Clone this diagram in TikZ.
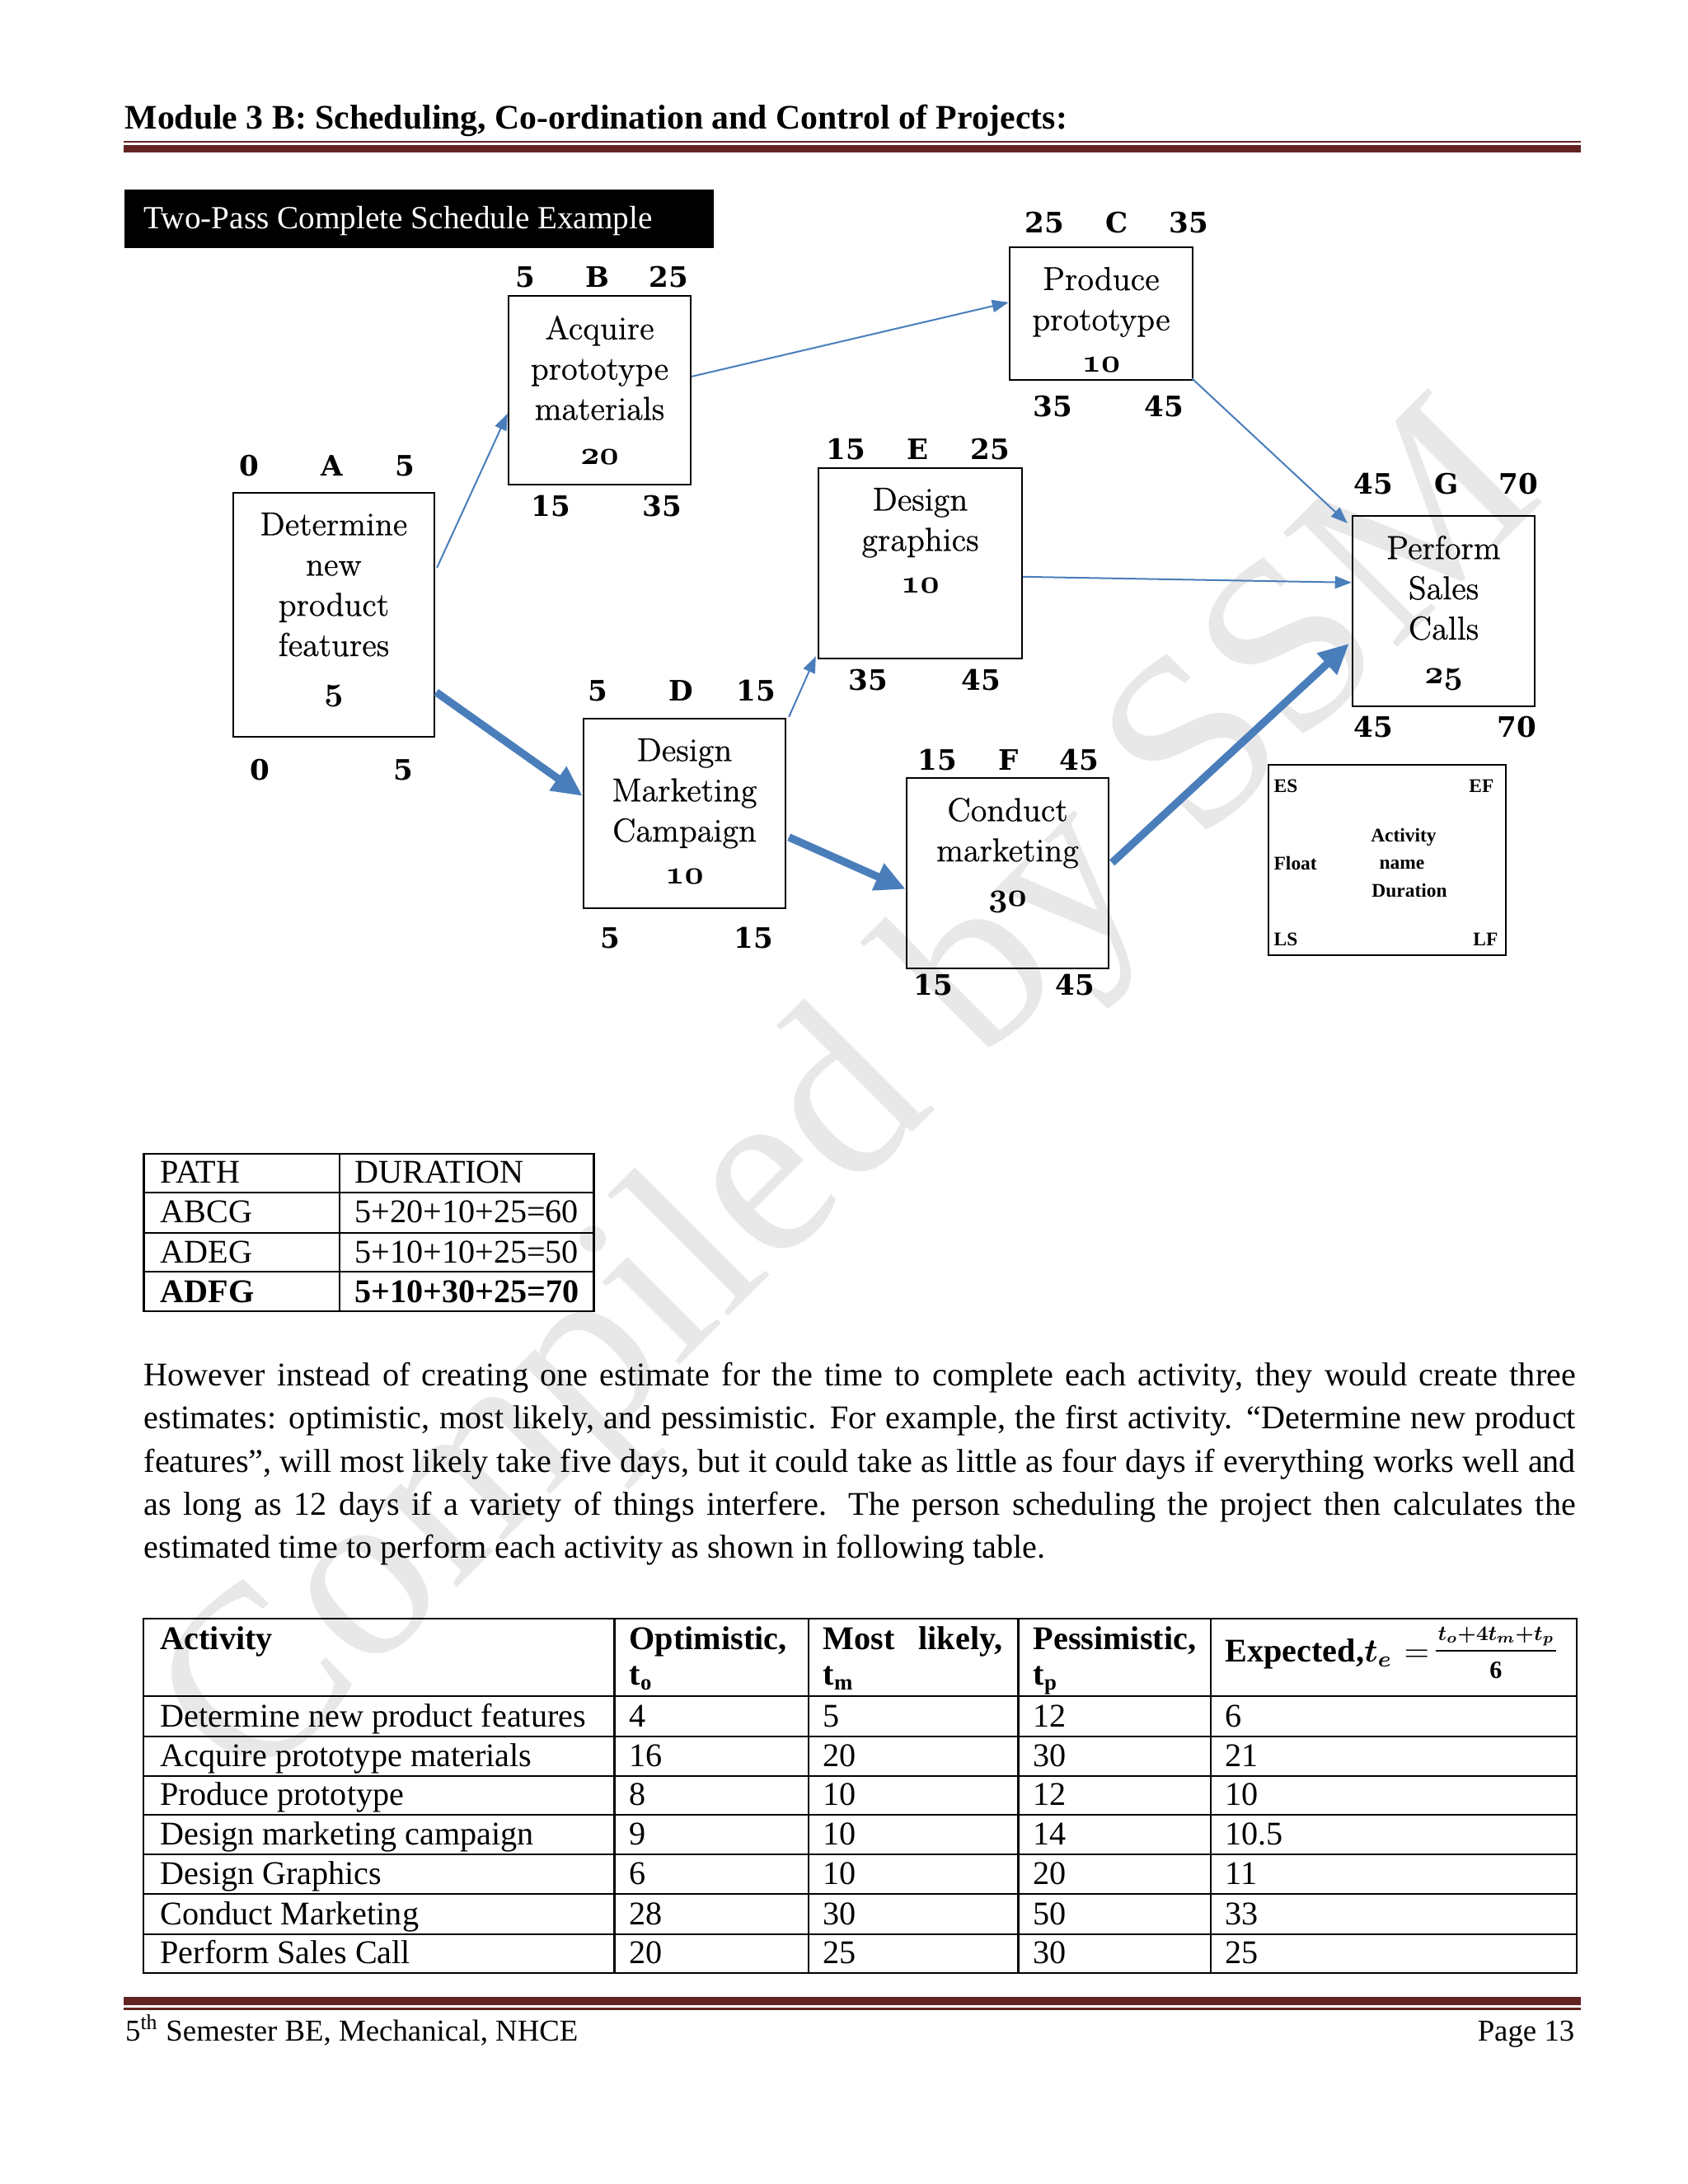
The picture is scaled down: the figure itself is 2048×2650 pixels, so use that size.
\documentclass[tikz,border=0pt]{standalone}
\usepackage{fontspec}
\setmainfont{Liberation Serif}
\newfontfamily\boxfont{lmroman12-regular.otf}[FakeBold=0.6]
\newfontfamily\lblfont{DejaVu Serif}
\usepackage{amsmath,bm}
\usetikzlibrary{arrows.meta,fit,calc}
\definecolor{hdrred}{HTML}{622423}
\definecolor{arrblue}{HTML}{4A7EBB}
\newcommand\osnum[1]{{\usefont{OML}{cmm}{b}{it}#1}}
\begin{document}
\begin{tikzpicture}[x=0.29883pt,y=-0.29883pt,
  actbox/.style={draw=black,line width=0.7pt,inner sep=0pt},
  btext/.style={font=\boxfont\fontsize{12}{14.6}\selectfont,align=center,anchor=north,inner sep=0pt},
  lbl/.style={font=\lblfont\bfseries\fontsize{10.2}{12}\selectfont,inner sep=0pt},
  thinarr/.style={draw=arrblue,line width=0.6pt,-{Triangle[length=6pt,width=4.5pt]}},
  thickarr/.style={draw=arrblue,line width=2.8pt,-{Triangle[length=11pt,width=10pt]}},
  tline/.style={draw=black,line width=0.7pt},
  ttxt/.style={font=\fontsize{12}{14}\selectfont,anchor=base west,inner sep=0pt},
  ftxt/.style={font=\fontsize{11}{13}\selectfont,anchor=base west,inner sep=0pt},
  lgd/.style={font=\bfseries\fontsize{7}{8}\selectfont,inner sep=0pt}]
\useasboundingbox (0,0) rectangle (2048,2650);
\fill[white] (0,0) rectangle (2048,2650);

% watermark
\node[rotate=45,text=black!9,inner sep=0pt] (wm) at (1040,1340)
  {\resizebox{665pt}{!}{\fontsize{90}{90}\selectfont Compiled by SSM}};

% header
\draw[hdrred,line width=0.6pt] (150,172) -- (1918,172);
\draw[hdrred,line width=2.7pt] (150,180.5) -- (1918,180.5);
\node[anchor=base west,inner sep=0pt] (hdr) at (151,156)
  {\resizebox{341.6pt}{!}{\bfseries Module 3 B: Scheduling, Co-ordination and Control of Projects:}};

% title box
\node[fill=black,inner sep=0pt,fit={(151,230) (866,301)}] (tbox) {};
\node[anchor=base west,inner sep=0pt,text=white] (ttl) at (174,277)
  {\resizebox{184.4pt}{!}{Two-Pass Complete Schedule Example}};

% activity boxes
\node[actbox,fit={(283,598) (527,894)}] (A) {};
\node[actbox,fit={(617,359) (838,588)}] (B) {};
\node[actbox,fit={(1225,300) (1447,461)}] (C) {};
\node[actbox,fit={(708,872) (953,1102)}] (D) {};
\node[actbox,fit={(993,568) (1240,799)}] (E) {};
\node[actbox,fit={(1100,944) (1345,1175)}] (F) {};
\node[actbox,fit={(1641,626) (1862,857)}] (G) {};

\node[btext] (At) at ($(A.north)+(0,24.5)$) {Determine\\new\\product\\features\\[1.5pt]\osnum{5}};
\node[btext] (Bt) at ($(B.north)+(0,24.5)$) {Acquire\\prototype\\materials\\[1.5pt]\osnum{20}};
\node[btext] (Ct) at ($(C.north)+(0,24.5)$) {Produce\\prototype\\[0.6pt]\osnum{10}};
\node[btext] (Dt) at ($(D.north)+(0,24.5)$) {Design\\Marketing\\Campaign\\[0.6pt]\osnum{10}};
\node[btext] (Et) at ($(E.north)+(0,24.5)$) {Design\\graphics\\[0.6pt]\osnum{10}};
\node[btext] (Ft) at ($(F.north)+(0,24.5)$) {Conduct\\marketing\\[1.5pt]\osnum{30}};
\node[btext] (Gt) at ($(G.north)+(0,24.5)$) {Perform\\Sales\\Calls\\[1.5pt]\osnum{25}};

% labels
\node[lbl] (a1) at (302,565) {0};  \node[lbl] (a2) at (403,565) {A}; \node[lbl] (a3) at (491,565) {5};
\node[lbl] (a4) at (315,934) {0};  \node[lbl] (a5) at (489,934) {5};
\node[lbl] (b1) at (637,336) {5};  \node[lbl] (b2) at (725,336) {B}; \node[lbl] (b3) at (811,336) {25};
\node[lbl] (b4) at (668,614) {15}; \node[lbl] (b5) at (803,614) {35};
\node[lbl] (c1) at (1267,270) {25}; \node[lbl] (c2) at (1355,270) {C}; \node[lbl] (c3) at (1442,270) {35};
\node[lbl] (c4) at (1277,493) {35}; \node[lbl] (c5) at (1412,493) {45};
\node[lbl] (e1) at (1026,545) {15}; \node[lbl] (e2) at (1114,545) {E}; \node[lbl] (e3) at (1201,545) {25};
\node[lbl] (e4) at (1053,825) {35}; \node[lbl] (e5) at (1190,825) {45};
\node[lbl] (d1) at (725,838) {5};  \node[lbl] (d2) at (826,838) {D}; \node[lbl] (d3) at (917,838) {15};
\node[lbl] (d4) at (740,1138) {5}; \node[lbl] (d5) at (914,1138) {15};
\node[lbl] (f1) at (1137,922) {15}; \node[lbl] (f2) at (1224,922) {F}; \node[lbl] (f3) at (1309,922) {45};
\node[lbl] (f4) at (1132,1195) {15}; \node[lbl] (f5) at (1304,1195) {45};
\node[lbl] (g1) at (1666,587) {45}; \node[lbl] (g2) at (1755,587) {G}; \node[lbl] (g3) at (1842,587) {70};
\node[lbl] (g4) at (1666,882) {45}; \node[lbl] (g5) at (1840,882) {70};

% connectors
\draw[thinarr] ($(A.north east)+(2,92)$) -- ($(B.north west)+(0,144)$);
\draw[thinarr] ($(B.north east)+(0,99)$) -- ($(C.north west)+(0,68)$);
\draw[thinarr] ($(C.south east)+(-2,-3)$) -- ($(G.north west)+(-5,10)$);
\draw[thinarr] ($(E.north east)+(0,133)$) -- ($(G.north west)+(0,82)$);
\draw[thinarr] ($(D.north east)+(3,-1)$) -- ($(E.south west)+(-2,-4)$);
\draw[thickarr] ($(A.north east)+(1,243)$) -- ($(D.north west)+(0,95)$);
\draw[thickarr] ($(D.north east)+(3,145)$) -- ($(F.north west)+(0,136)$);
\draw[thickarr] ($(F.north east)+(3,104)$) -- ($(G.north west)+(-3,156)$);

% legend
\node[draw=black,line width=0.6pt,inner sep=0pt,fit={(1539,928) (1827,1159)}] (L) {};
\node[lgd,anchor=base west] (les) at (1545,961) {ES};
\node[lgd,anchor=base east] (lef) at (1813,961) {EF};
\node[lgd,anchor=base west] (lfl) at (1545,1055) {Float};
\node[lgd,anchor=base west] (lls) at (1545,1147) {LS};
\node[lgd,anchor=base east] (llf) at (1818,1147) {LF};
\node[lgd,anchor=base] (lac) at (1703,1021) {Activity};
\node[lgd,anchor=base] (lnm) at (1701,1054) {name};
\node[lgd,anchor=base] (ldu) at (1710,1088) {Duration};

% path table
\draw[tline] (174.5,1400) rectangle (720.5,1591);
\draw[tline] (174.5,1447) -- (720.5,1447);
\draw[tline] (174.5,1496) -- (720.5,1496);
\draw[tline] (174.5,1543) -- (720.5,1543);
\draw[tline] (412,1400) -- (412,1591);
\node[ttxt] (p11) at (194,1435) {PATH};
\node[ttxt] (p12) at (430,1435) {DURATION};
\node[ttxt] (p21) at (194,1483) {ABCG};
\node[ttxt] (p22) at (430,1483) {5+20+10+25=60};
\node[ttxt] (p31) at (194,1532) {ADEG};
\node[ttxt] (p32) at (430,1532) {5+10+10+25=50};
\node[ttxt] (p41) at (194,1580) {\bfseries ADFG};
\node[ttxt] (p42) at (430,1580) {\bfseries 5+10+30+25=70};

% paragraph
\node[ttxt] (l1) at (174,1681) {\makebox[519.1pt][s]{However instead of creating one estimate for the time to complete each activity, they would create three}};
\node[ttxt] (l2) at (174,1733) {\makebox[519.1pt][s]{estimates: optimistic, most likely, and pessimistic. For example, the first activity. “Determine new product}};
\node[ttxt] (l3) at (174,1786) {\makebox[519.1pt][s]{features”, will most likely take five days, but it could take as little as four days if everything works well and}};
\node[ttxt] (l4) at (174,1838) {\makebox[519.1pt][s]{as long as 12 days if a variety of things interfere. The person scheduling the project then calculates the}};
\node[ttxt] (l5) at (174,1890) {estimated time to perform each activity as shown in following table.};

% estimate table
\draw[tline] (174,1964) rectangle (1913,2394);
\foreach \yy in {2058,2106.7,2155,2202,2250,2298,2346.7}
  \draw[tline] (174,\yy) -- (1913,\yy);
\foreach \xx in {745.5,981,1235.6,1468.7}
  \draw[tline] (\xx,1964) -- (\xx,2394);
\node[ttxt] (h1) at (194,2001) {\bfseries Activity};
\node[ttxt] (h2) at (763,2001) {\bfseries Optimistic,};
\node[ttxt] (h2b) at (763,2044) {\bfseries t\textsubscript{o}};
\node[ttxt] (h3) at (998,2001) {\bfseries\makebox[65pt][s]{Most likely,}};
\node[ttxt] (h3b) at (998,2044) {\bfseries t\textsubscript{m}};
\node[ttxt] (h4) at (1253,2001) {\bfseries Pessimistic,};
\node[ttxt] (h4b) at (1253,2044) {\bfseries t\textsubscript{p}};
\node[ttxt] (h5) at (1486,2016) {\bfseries Expected,$\bm{t_e}$};
\node[ttxt] (h5eq) at (1703,2016) {$=$};
\draw[line width=0.6pt] (1742,2003) -- (1888,2003);
\node[inner sep=0pt,anchor=base] (h5n) at (1815,1990) {\resizebox{42pt}{!}{$\bm{t_o{+}4t_m{+}t_p}$}};
\node[inner sep=0pt,anchor=base,font=\bfseries\fontsize{9}{10}\selectfont] (h5d) at (1815,2036) {6};

\foreach \n/\ta/\tb/\tc/\td/\te/\yy in {
  1/Determine new product features/4/5/12/6/2095,
  2/Acquire prototype materials/16/20/30/21/2143,
  3/Produce prototype/8/10/12/10/2190,
  4/Design marketing campaign/9/10/14/10.5/2238,
  5/Design Graphics/6/10/20/11/2286,
  6/Conduct Marketing/28/30/50/33/2335,
  7/Perform Sales Call/20/25/30/25/2382}{
  \node[ttxt] (r\n a) at (194,\yy) {\ta};
  \node[ttxt] (r\n b) at (763,\yy) {\tb};
  \node[ttxt] (r\n c) at (998,\yy) {\tc};
  \node[ttxt] (r\n d) at (1253,\yy) {\td};
  \node[ttxt] (r\n e) at (1486,\yy) {\te};
}

% footer
\draw[hdrred,line width=3pt] (150,2428) -- (1918,2428);
\draw[hdrred,line width=0.9pt] (150,2437.5) -- (1918,2437.5);
\node[ftxt] (ft1) at (151.5,2476) {5\textsuperscript{th} Semester BE, Mechanical, NHCE};
\node[ftxt,anchor=base east] (ft2) at (1911,2476) {Page 13};
\end{tikzpicture}
\end{document}
